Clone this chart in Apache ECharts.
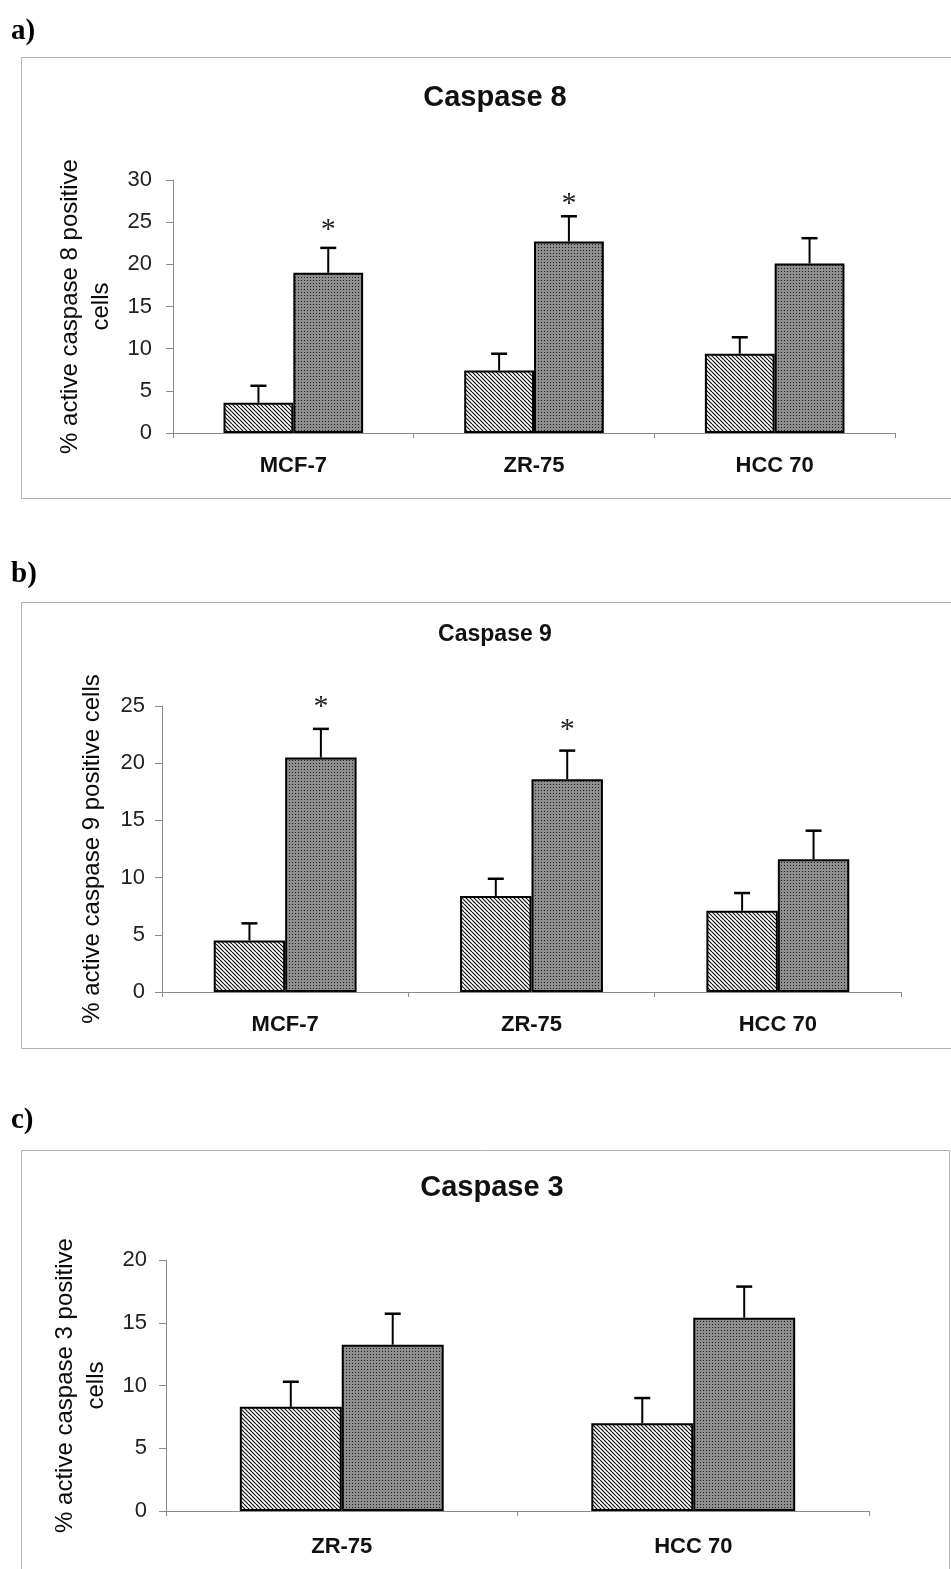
<!DOCTYPE html>
<html>
<head>
<meta charset="utf-8">
<script src="https://cdn.jsdelivr.net/npm/echarts@6/dist/echarts.min.js"></script>
<style>
  html, body { margin: 0; padding: 0; background: #fff; }
  #main { width: 951px; height: 1569px; }
</style>
</head>
<body>
<div id="main"></div>
<script>
  // a) Caspase 8
  var cats8 = ['MCF-7', 'ZR-75', 'HCC 70'];
  var ctrl8 = [3.6, 7.4, 9.4];
  var ctrl8Err = [2.0, 2.0, 1.95];
  var trt8 = [19.0, 22.7, 20.1];
  var trt8Err = [2.95, 3.0, 3.0];
  var star8 = [24.6, 27.7, null];

  // b) Caspase 9
  var cats9 = ['MCF-7', 'ZR-75', 'HCC 70'];
  var ctrl9 = [4.5, 8.4, 7.1];
  var ctrl9Err = [1.5, 1.5, 1.55];
  var trt9 = [20.5, 18.6, 11.6];
  var trt9Err = [2.5, 2.5, 2.5];
  var star9 = [25.3, 23.3, null];

  // c) Caspase 3
  var cats3 = ['ZR-75', 'HCC 70'];
  var ctrl3 = [8.3, 7.0];
  var ctrl3Err = [2.0, 2.0];
  var trt3 = [13.25, 15.4];
  var trt3Err = [2.47, 2.48];

  var SANS = '"Liberation Sans", Arial, sans-serif';
  var SERIF = '"Liberation Serif", "Times New Roman", serif';
  var CAT_GAP = 0.42;            // barCategoryGap
  var BAR_FRAC = (1 - CAT_GAP) / 2;

  // fill patterns: diagonal hatch and dark stipple
  function hatchTile() {
    var c = document.createElement('canvas');
    c.width = 8; c.height = 8;
    var g = c.getContext('2d');
    g.fillStyle = '#fff';
    g.fillRect(0, 0, 8, 8);
    g.strokeStyle = '#141414';
    g.lineWidth = 1.2;
    for (var x = -8; x <= 8; x += 4) {
      g.beginPath();
      g.moveTo(x, 0);
      g.lineTo(x + 8, 8);
      g.stroke();
    }
    return c;
  }
  function dotTile() {
    var c = document.createElement('canvas');
    c.width = 3; c.height = 3;
    var g = c.getContext('2d');
    g.fillStyle = '#8e8e8e';
    g.fillRect(0, 0, 3, 3);
    g.fillStyle = '#1e1e1e';
    g.fillRect(1, 1, 1, 1);
    return c;
  }
  var hatchFill = { image: hatchTile(), repeat: 'repeat' };
  var dotFill = { image: dotTile(), repeat: 'repeat' };

  function toErrData(vals, errs) {
    return vals.map(function (v, i) { return [i, v, errs[i]]; });
  }
  function toStarData(stars) {
    var out = [];
    stars.forEach(function (s, i) { if (s != null) out.push([i, s]); });
    return out;
  }

  function errRender(side) {
    return function (params, api) {
      var i = api.value(0), v = api.value(1), e = api.value(2);
      var base = api.coord([i, v]);
      var top = api.coord([i, v + e]);
      var bw = api.size([1, 0])[0] * BAR_FRAC;
      var x = base[0] + side * bw / 2;
      return {
        type: 'group',
        children: [
          { type: 'line', shape: { x1: x, y1: base[1], x2: x, y2: top[1] }, style: { stroke: '#000', lineWidth: 2 } },
          { type: 'line', shape: { x1: x - 8, y1: top[1], x2: x + 8, y2: top[1] }, style: { stroke: '#000', lineWidth: 2.5 } }
        ]
      };
    };
  }
  function starRender(params, api) {
    var p = api.coord([api.value(0), api.value(1)]);
    var bw = api.size([1, 0])[0] * BAR_FRAC;
    return {
      type: 'text',
      x: p[0] + bw / 2,
      y: p[1] + 5,
      style: { text: '*', font: '30px ' + SERIF, fill: '#222', align: 'center', verticalAlign: 'middle' }
    };
  }

  function xAxisOf(gi, cats, margin) {
    return {
      type: 'category', gridIndex: gi, data: cats,
      axisLine: { lineStyle: { color: '#8a8a8a', width: 1 } },
      axisTick: { show: true, length: 5, lineStyle: { color: '#8a8a8a' } },
      axisLabel: { margin: margin, fontFamily: SANS, fontSize: 22, fontWeight: 'bold', color: '#111' }
    };
  }
  function yAxisOf(gi, max, name, gap, labelMargin) {
    return {
      type: 'value', gridIndex: gi, min: 0, max: max, interval: 5,
      name: name, nameLocation: 'middle', nameRotate: 90, nameGap: gap,
      nameTextStyle: { fontFamily: SANS, fontSize: 24, color: '#0a0a0a', lineHeight: 31 },
      axisLine: { show: true, lineStyle: { color: '#8a8a8a', width: 1 } },
      axisTick: { show: true, length: 7, lineStyle: { color: '#8a8a8a' } },
      axisLabel: { margin: labelMargin, fontFamily: SANS, fontSize: 22, color: '#222' },
      splitLine: { show: false }
    };
  }
  function barSeries(gi, vals, fill) {
    return {
      type: 'bar', xAxisIndex: gi, yAxisIndex: gi, data: vals,
      barGap: 0, barCategoryGap: (CAT_GAP * 100) + '%',
      itemStyle: { color: fill, borderColor: '#000', borderWidth: 2 },
      emphasis: { disabled: true }, z: 2
    };
  }
  function errSeries(gi, vals, errs, side) {
    return {
      type: 'custom', xAxisIndex: gi, yAxisIndex: gi,
      data: toErrData(vals, errs), encode: { x: 0, y: 1 },
      renderItem: errRender(side), z: 3, silent: true
    };
  }
  function starSeries(gi, stars) {
    return {
      type: 'custom', xAxisIndex: gi, yAxisIndex: gi,
      data: toStarData(stars), encode: { x: 0, y: 1 },
      renderItem: starRender, z: 3, silent: true, clip: false
    };
  }
  function frame(y, h, w) {
    return { type: 'rect', shape: { x: 21.5, y: y + 0.5, width: w, height: h },
      style: { fill: 'none', stroke: '#b0b0b0', lineWidth: 1 }, silent: true };
  }
  function letter(t, y) {
    return { type: 'text', x: 11, y: y,
      style: { text: t, font: 'bold 29px ' + SERIF, fill: '#000', verticalAlign: 'middle' } };
  }

  var myChart = echarts.init(document.getElementById('main'), null, { renderer: 'canvas' });
  myChart.setOption({
    backgroundColor: '#fff',
    animation: false,
    title: [
      { text: 'Caspase 8', left: 490, top: 93, textAlign: 'center', textVerticalAlign: 'middle',
        textStyle: { fontFamily: SANS, fontSize: 29, fontWeight: 'bold', color: '#111' } },
      { text: 'Caspase 9', left: 490, top: 630, textAlign: 'center', textVerticalAlign: 'middle',
        textStyle: { fontFamily: SANS, fontSize: 23, fontWeight: 'bold', color: '#111' } },
      { text: 'Caspase 3', left: 487, top: 1183, textAlign: 'center', textVerticalAlign: 'middle',
        textStyle: { fontFamily: SANS, fontSize: 29, fontWeight: 'bold', color: '#111' } }
    ],
    grid: [
      { left: 173, top: 180, width: 722, height: 253 },
      { left: 162, top: 706, width: 739, height: 286 },
      { left: 166, top: 1260, width: 703, height: 251 }
    ],
    xAxis: [
      xAxisOf(0, cats8, 22),
      xAxisOf(1, cats9, 22),
      xAxisOf(2, cats3, 25)
    ],
    yAxis: [
      yAxisOf(0, 30, '% active caspase 8 positive\ncells', 56, 21),
      yAxisOf(1, 25, '% active caspase 9 positive cells', 54, 17),
      yAxisOf(2, 20, '% active caspase 3 positive\ncells', 47, 19)
    ],
    graphic: [
      frame(57, 441, 960), frame(602, 446, 960), frame(1150, 440, 928),
      letter('a)', 32), letter('b)', 575), letter('c)', 1121)
    ],
    series: [
      barSeries(0, ctrl8, hatchFill), barSeries(0, trt8, dotFill),
      errSeries(0, ctrl8, ctrl8Err, -1), errSeries(0, trt8, trt8Err, 1),
      starSeries(0, star8),

      barSeries(1, ctrl9, hatchFill), barSeries(1, trt9, dotFill),
      errSeries(1, ctrl9, ctrl9Err, -1), errSeries(1, trt9, trt9Err, 1),
      starSeries(1, star9),

      barSeries(2, ctrl3, hatchFill), barSeries(2, trt3, dotFill),
      errSeries(2, ctrl3, ctrl3Err, -1), errSeries(2, trt3, trt3Err, 1)
    ]
  });
</script>
</body>
</html>
